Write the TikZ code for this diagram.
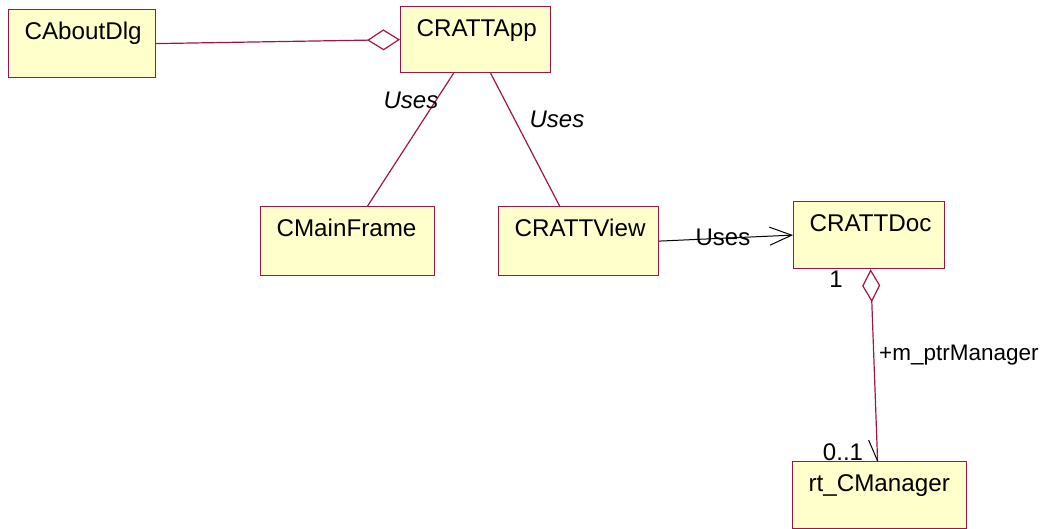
\documentclass[tikz,border=0pt]{standalone}
\usepackage{fontspec}
\setmainfont{Liberation Sans}
\usetikzlibrary{arrows.meta}

\definecolor{umlred}{RGB}{163,20,70}
\definecolor{umlfill}{RGB}{255,255,204}

\begin{document}
\begin{tikzpicture}[
  x=1pt, y=-1pt,
  block_class/.style={rectangle, draw=umlred, fill=umlfill, line width=1.2pt,
    anchor=north west, align=left, inner xsep=16pt, inner ysep=0pt,
    text height=30pt, font=\fontsize{24.2}{28}\selectfont},
  line/.style={draw=umlred, line width=1.2pt},
  aggr/.style={line, {Diamond[open, length=33pt, width=#1]}-},
  aggr/.default=20pt,
  uses/.style={draw=black, line width=1pt, -{Straight Barb[length=22pt, width=18pt]}},
  label_txt/.style={font=\fontsize{24}{28}\selectfont, inner sep=0pt}
  ]

\useasboundingbox (0,0) rectangle (1051,529);

% classes
\node [block_class, text width=115pt, text depth=38pt] (dlg) at (8,9) {CAboutDlg};
\node [block_class, text width=118pt, text depth=36pt] (app) at (400,6) {CRATTApp};
\node [block_class, text width=142pt, text depth=39pt] (frame) at (260,206) {CMainFrame};
\node [block_class, text width=128pt, text depth=39pt] (view) at (498,206) {CRATTView};
\node [block_class, text width=119pt, text depth=37pt] (doc) at (793,201) {CRATTDoc};
\node [block_class, text width=142pt, text depth=37pt] (mgr) at (792,461) {rt\_CManager};

% associations
\path [aggr=21pt] (app.west) -- (dlg.east);
\path [line] ([xshift=-22pt]app.south) -- ([xshift=20pt]frame.north);
\path [line] ([xshift=15pt]app.south) -- ([xshift=-19pt]view.north);
\path [uses] (view.east) -- (doc.west);
\path [aggr=18pt] ([xshift=1.5pt]doc.south) -- ([xshift=-2pt]mgr.north);
\draw [black, line width=1pt] ([xshift=-2pt]mgr.north) -- ++(-9,-21);

% labels
\node [label_txt, font=\fontsize{24}{28}\selectfont\itshape] (uses_frame) at (411,100) {Uses};
\node [label_txt, font=\fontsize{24}{28}\selectfont\itshape] (uses_view) at (557,119) {Uses};
\node [label_txt] (uses_doc) at (723,237) {Uses};
\node [label_txt] (mult_doc) at (836,279) {1};
\node [label_txt] (mult_mgr) at (843,452) {0..1};
\node [label_txt, anchor=base west, font=\fontsize{22.5}{26}\selectfont] (role_mgr) at (879,360) {+m\_ptrManager};

\end{tikzpicture}
\end{document}
